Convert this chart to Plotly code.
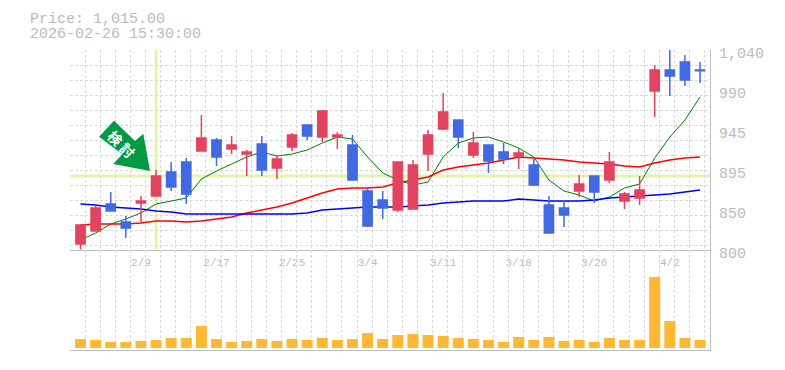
import plotly.graph_objects as go

date_ticks = [4, 9, 14, 19, 24, 29, 34, 39]
date_labels = ["2/9", "2/17", "2/25", "3/4", "3/11", "3/18", "3/26", "4/2"]
price_ticks = [1040, 992, 944, 896, 848, 800]
price_labels = ["1,040", "990", "945", "895", "850", "800"]

opens = [807.2, 822.8, 855.2, 833.6, 856.4, 864.8, 893.6, 905.6, 918.8, 932.0, 921.2, 915.2, 927.2, 898.4,
         923.6, 950.0, 935.6, 935.6, 926.0, 870.8, 860.0, 848.0, 849.2, 915.2, 945.2, 956.0, 914.0, 926.0,
         917.6, 912.8, 902.0, 854.0, 850.4, 870.8, 888.8, 884.0, 858.8, 862.4, 990.8, 1016.0, 1025.6, 1016.0]
highs = [830.0, 852.8, 869.6, 840.8, 864.8, 896.0, 905.6, 910.4, 962.0, 934.4, 936.8, 920.0, 936.8, 914.0,
         940.4, 950.0, 968.0, 941.6, 938.0, 875.6, 870.8, 905.6, 908.0, 944.0, 988.4, 956.0, 941.6, 926.0,
         928.4, 921.2, 911.6, 864.8, 860.0, 890.0, 888.8, 917.6, 869.6, 888.8, 1022.0, 1046.0, 1034.0, 1025.6]
lows = [800.5, 822.8, 846.8, 814.4, 833.6, 864.8, 870.8, 855.2, 918.8, 900.8, 915.2, 888.8, 888.8, 885.2,
        918.8, 932.0, 929.6, 921.2, 884.0, 827.6, 837.2, 845.6, 849.2, 894.8, 944.0, 922.4, 910.4, 892.4,
        903.2, 897.2, 876.8, 820.4, 827.6, 863.6, 856.4, 880.4, 849.2, 854.0, 959.6, 984.8, 996.8, 1000.4]
closes = [830.0, 850.4, 846.8, 826.4, 858.8, 888.8, 875.6, 867.2, 934.4, 911.6, 926.0, 917.6, 896.0, 909.2,
          938.0, 936.8, 966.8, 938.0, 884.0, 828.8, 850.4, 905.6, 902.0, 938.0, 965.6, 935.6, 928.4, 906.8,
          909.2, 916.4, 878.0, 820.4, 842.0, 879.2, 869.6, 905.6, 867.2, 872.0, 1016.0, 1008.8, 1004.0, 1015.0]
ma_short = [812.0, 820.4, 831.2, 837.2, 844.4, 855.2, 858.8, 862.4, 885.2, 894.8, 903.2, 911.6, 917.6, 912.8,
            915.2, 920.0, 928.4, 935.6, 933.2, 911.6, 892.4, 884.0, 878.0, 881.6, 911.6, 928.4, 934.4, 935.6,
            929.6, 922.4, 911.6, 884.0, 870.8, 866.0, 858.8, 863.6, 874.4, 879.2, 910.4, 935.6, 956.0, 983.6]
ma_mid = [830.0, 831.2, 831.2, 831.2, 832.4, 834.8, 834.8, 833.6, 834.8, 837.2, 839.6, 844.4, 848.0, 851.6,
          856.4, 862.4, 868.4, 873.2, 874.4, 874.4, 875.6, 880.4, 884.0, 887.6, 896.0, 899.6, 902.0, 904.4,
          908.0, 911.6, 910.4, 909.2, 908.0, 905.6, 904.4, 903.2, 900.8, 899.6, 904.4, 908.0, 910.4, 911.6]
ma_long = [855.2, 854.0, 851.6, 850.4, 849.2, 846.8, 845.6, 843.2, 843.2, 843.2, 843.2, 843.2, 843.2, 843.2,
           843.2, 844.4, 848.0, 849.2, 850.4, 851.6, 851.6, 851.6, 852.8, 854.0, 856.4, 857.6, 858.8, 858.8,
           858.8, 861.2, 860.0, 858.8, 858.8, 858.8, 860.0, 862.4, 863.6, 864.8, 866.0, 867.2, 869.6, 872.0]
volumes = [9, 8, 6, 6, 7, 8, 10, 10, 22, 9, 6, 7, 9, 7, 9, 8, 10, 8, 9, 15, 9, 13,
           14, 13, 12, 10, 9, 8, 6, 11, 8, 11, 7, 8, 6, 10, 8, 8, 71, 27, 10, 8]
idx = list(range(len(closes)))
marked_index = 5
marked_price = closes[marked_index]

RED, BLUE = "#E2435F", "#4169E1"
GRID, AXIS, TEXT = "#D9D9D9", "#BDBDBD", "#BBBBBB"
MONO = "Liberation Mono, monospace"
HILITE = "#E4F5AA"
X_RANGE = [-0.695, 41.66]
Y_RANGE = [800, 1040]

fig = go.Figure()
for values, color, width in [(ma_short, "#008000", 1), (ma_mid, "#FF0000", 1.5), (ma_long, "#0000FF", 1.5)]:
    fig.add_trace(go.Scatter(x=idx, y=values, mode="lines", line=dict(color=color, width=width),
                             xaxis="x", yaxis="y", hoverinfo="skip"))
fig.add_trace(go.Candlestick(
    x=idx, open=opens, high=highs, low=lows, close=closes, xaxis="x", yaxis="y3", whiskerwidth=0,
    increasing=dict(line=dict(color=RED, width=1.5), fillcolor=RED),
    decreasing=dict(line=dict(color=BLUE, width=1.5), fillcolor=BLUE)))
fig.add_trace(go.Bar(x=idx, y=volumes, width=0.73, marker=dict(color="#FFB833", line=dict(width=0)),
                     xaxis="x2", yaxis="y2"))

minor_x = dict(tickmode="linear", tick0=X_RANGE[0], dtick=1, showgrid=True, gridcolor=GRID,
               griddash="3px,2px", gridwidth=1, ticklen=0)
common_x = dict(range=X_RANGE, showgrid=False, zeroline=False, showline=True, linecolor=AXIS, linewidth=1,
                ticks="", minor=minor_x)

shapes = [
    dict(type="line", xref="x", yref="y", x0=X_RANGE[0], x1=X_RANGE[1], y0=marked_price, y1=marked_price,
         line=dict(color=HILITE, width=3), layer="below"),
    dict(type="line", xref="x", yref="y", x0=marked_index, x1=marked_index, y0=801, y1=1040,
         line=dict(color=HILITE, width=3), layer="below"),
    # signal arrow, positioned in paper fractions of the 640x300 plot area
    dict(type="path", xref="paper", yref="paper", line=dict(width=0), fillcolor="#009944", layer="above",
         path="M {} {} L {} {} L {} {} L {} {} L {} {} L {} {} L {} {} Z".format(
             *[v for px, py in [(114, 120.7), (99, 136.7), (122.3, 154.3), (113.3, 164), (150, 171),
                                (143.3, 133.7), (135, 141)]
               for v in ((px - 70) / 640, (350 - py) / 300)])),
]

annotations = [
    dict(text="<b>検 討</b>", xref="paper", yref="paper", x=(121.5 - 70) / 640, y=(350 - 144) / 300, showarrow=False,
         textangle=45, font=dict(color="white", size=14, family="Noto Sans CJK JP"), xanchor="center",
         yanchor="middle"),
    dict(text="Price: 1,015.00", xref="paper", yref="paper", x=-42 / 640, y=(350 - 19) / 300, showarrow=False,
         xanchor="left", yanchor="middle", font=dict(color=TEXT, size=15, family=MONO)),
    dict(text="2026-02-26 15:30:00", xref="paper", yref="paper", x=-42 / 640, y=(350 - 34) / 300,
         showarrow=False, xanchor="left", yanchor="middle", font=dict(color=TEXT, size=15, family=MONO)),
]
for val, lab in zip(price_ticks, price_labels):
    annotations.append(dict(text=lab, xref="paper", yref="y", x=1, y=val, xshift=7, yshift=-4, showarrow=False,
                            xanchor="left", yanchor="middle", font=dict(color=TEXT, size=15, family=MONO)))

fig.update_layout(
    width=785, height=370, autosize=False, margin=dict(l=70, r=75, t=50, b=20, pad=0),
    paper_bgcolor="white", plot_bgcolor="white", showlegend=False, boxgap=0.13,
    xaxis=dict(anchor="y", domain=[0, 1], tickmode="array", tickvals=date_ticks, ticktext=date_labels,
               tickfont=dict(color=TEXT, size=11, family=MONO), ticklabelstandoff=2,
               rangeslider=dict(visible=False), **common_x),
    xaxis2=dict(anchor="y2", domain=[0, 1], matches="x", showticklabels=False, **common_x),
    yaxis=dict(domain=[1 / 3, 1], range=Y_RANGE, anchor="x", tickmode="linear", tick0=1040, dtick=18,
               showticklabels=False, ticks="", zeroline=False, showgrid=True, gridcolor=GRID,
               griddash="3px,2px", gridwidth=1, side="right", showline=True, linecolor=AXIS, linewidth=1),
    yaxis2=dict(domain=[0, 1 / 3], range=[-2, 98], anchor="x2", showticklabels=False, ticks="", zeroline=False,
                showgrid=False, side="right", showline=True, linecolor=AXIS, linewidth=1),
    yaxis3=dict(overlaying="y", range=Y_RANGE, anchor="x", showticklabels=False, ticks="", zeroline=False,
                showgrid=False, side="right", showline=False),
    shapes=shapes, annotations=annotations,
)
fig.write_html("out.html", config={"displayModeBar": False},
               post_script="document.body.style.margin='0';")
